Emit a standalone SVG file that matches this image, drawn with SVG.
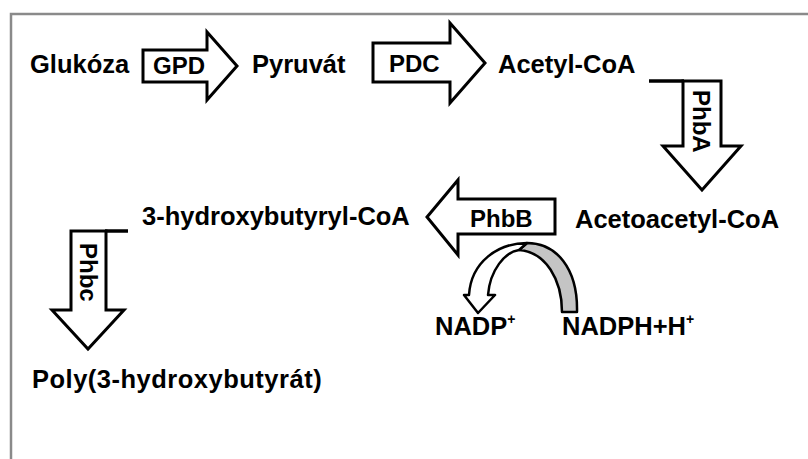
<svg xmlns="http://www.w3.org/2000/svg" width="808" height="459" viewBox="0 0 808 459">
<style>
  .lbl { font-family: "Liberation Sans", Arial, sans-serif; font-weight: bold; font-size: 25.5px; fill: #000; }
  .enz { font-family: "Liberation Sans", Arial, sans-serif; font-weight: bold; font-size: 24px; fill: #000; }
  .blk { fill: #fff; stroke: #000; stroke-width: 3; stroke-linejoin: miter; }
  .bar { stroke: #000; stroke-width: 3.5; fill: none; }
</style>
<rect width="808" height="459" fill="#fff"/>
<path d="M11,459 V14 H808" fill="none" stroke="#8a8a8a" stroke-width="2.5"/>

<g id="connectors">
  <g id="arrow-gpd">
    <polygon class="blk" points="143,50 207,50 207,32 237,66 207,100 207,82 143,82"/>
    <text class="enz" x="153" y="74">GPD</text>
  </g>
  <g id="arrow-pdc">
    <polygon class="blk" points="373,43 450,43 450,23 485,63 450,103 450,82 373,82"/>
    <text class="enz" x="389" y="72">PDC</text>
  </g>
  <g id="arrow-phba">
    <polygon class="blk" points="683,81 721,81 721,146 741,146 702,190 663,146 683,146"/>
    <line class="bar" x1="649" y1="81" x2="684" y2="81"/>
    <text class="enz" transform="translate(693,90) rotate(90)">PhbA</text>
  </g>
  <g id="arrow-phbb">
    <polygon class="blk" points="555,199 555,234 458,234 458,255 427,217 458,180 458,199"/>
    <text class="enz" x="470" y="227">PhbB</text>
  </g>
  <g id="arrow-phbc">
    <polygon class="blk" points="71,231 106,231 106,310 124,310 88,349 52,310 71,310"/>
    <line class="bar" x1="105" y1="231" x2="128" y2="231"/>
    <text class="enz" transform="translate(80,243) rotate(90)">Phbc</text>
  </g>
  <g id="arrow-nadph">
    <path d="M577,312 C578,268 556,243 527,243 L519,250 C546,252 562,280 562,312 Z" fill="#c4c4c4" stroke="#000" stroke-width="2.5" stroke-linejoin="round"/>
    <path d="M527,243 C498,243 471,262 469,295 L464,295 L478,313 L495,295 L488,295 C490,270 505,252 519,250 Z" fill="#fff" stroke="#000" stroke-width="2.5" stroke-linejoin="round"/>
  </g>
</g>

<g id="glukoza"><text class="lbl" x="30" y="73">Glukóza</text></g>
<g id="pyruvat"><text class="lbl" x="252" y="73">Pyruvát</text></g>
<g id="acetyl-coa"><text class="lbl" x="498" y="73">Acetyl-CoA</text></g>
<g id="acetoacetyl-coa"><text class="lbl" x="575" y="228" font-size="26">Acetoacetyl-CoA</text></g>
<g id="hydroxybutyryl-coa"><text class="lbl" x="142" y="225">3-hydroxybutyryl-CoA</text></g>
<g id="phb"><text class="lbl" x="32" y="388" font-size="26.5" letter-spacing="0.5">Poly(3-hydroxybutyrát)</text></g>
<g id="nadp"><text class="lbl" x="435" y="335">NADP<tspan font-size="14" dy="-11">+</tspan></text></g>
<g id="nadph"><text class="lbl" x="562" y="335">NADPH+H<tspan font-size="14" dy="-11">+</tspan></text></g>
</svg>
